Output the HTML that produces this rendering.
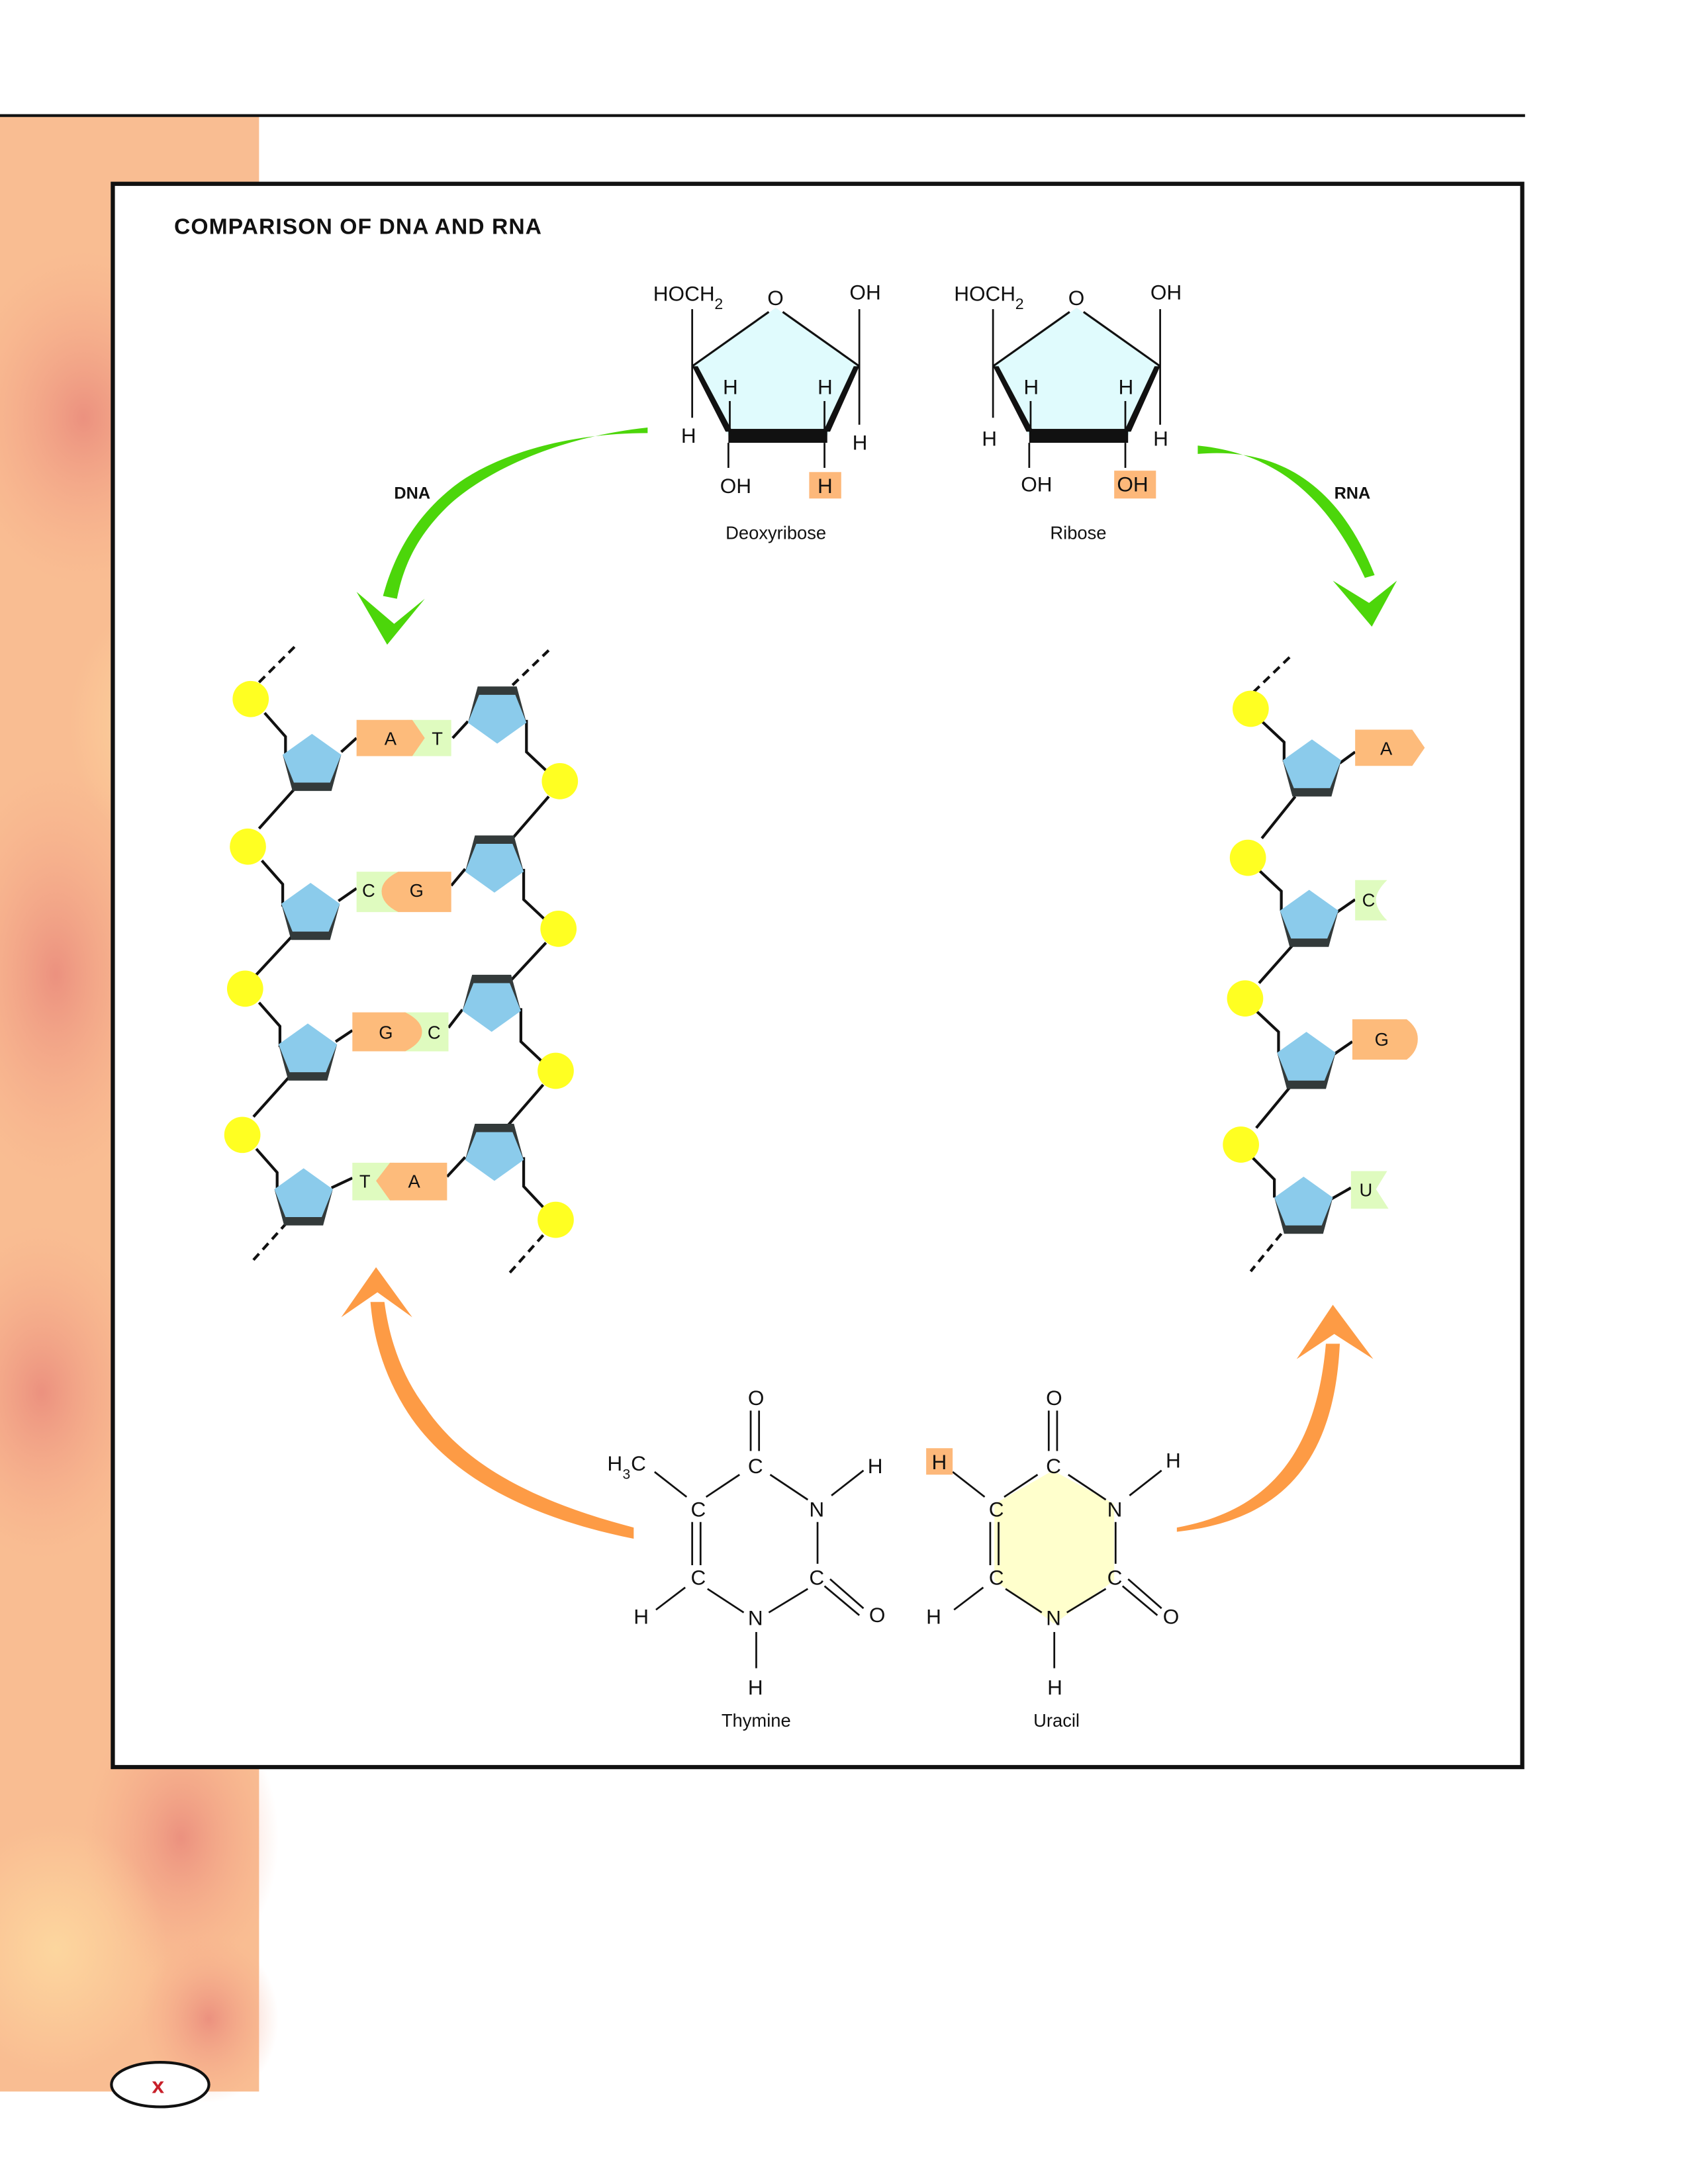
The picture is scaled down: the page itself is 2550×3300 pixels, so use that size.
<!DOCTYPE html>
<html><head><meta charset="utf-8"><style>
html,body{margin:0;padding:0;background:#fff}
svg{display:block}
text{font-family:"Liberation Sans",sans-serif;fill:#111}
</style></head><body>
<svg width="2550" height="3300" viewBox="0 0 1212 1568.4" preserveAspectRatio="none" xmlns="http://www.w3.org/2000/svg">
<defs>
<radialGradient id="b1" cx="0.5" cy="0.5" r="0.5"><stop offset="0" stop-color="#e8867a" stop-opacity="0.8"/><stop offset="1" stop-color="#f6a88a" stop-opacity="0"/></radialGradient>
<radialGradient id="b2" cx="0.5" cy="0.5" r="0.5"><stop offset="0" stop-color="#fdd9a0" stop-opacity="0.9"/><stop offset="1" stop-color="#fdd9a0" stop-opacity="0"/></radialGradient>
<g id="su"><polygon points="-21,-6 -14,20 14,20 21,-6" fill="#333a3a"/><polygon points="0,-21 21,-6 13,14 -13,14 -21,-6" fill="#8bcbeb"/></g>
<g id="sd"><polygon points="-21,6 -14,-20 14,-20 21,6" fill="#333a3a"/><polygon points="0,21 21,6 13,-14 -13,-14 -21,6" fill="#8bcbeb"/></g>
</defs>
<rect x="0" y="83" width="186" height="1419" fill="#f9bd92"/>
<ellipse cx="60" cy="300" rx="90" ry="120" fill="url(#b1)"/>
<ellipse cx="40" cy="700" rx="80" ry="150" fill="url(#b1)"/>
<ellipse cx="120" cy="520" rx="70" ry="90" fill="url(#b2)"/>
<ellipse cx="30" cy="1000" rx="80" ry="120" fill="url(#b1)"/>
<ellipse cx="130" cy="1320" rx="70" ry="100" fill="url(#b1)"/>
<ellipse cx="40" cy="1400" rx="80" ry="90" fill="url(#b2)"/>
<ellipse cx="150" cy="1450" rx="50" ry="60" fill="url(#b1)"/>
<line x1="0" y1="83" x2="1095" y2="83" stroke="#111" stroke-width="2"/>
<rect x="81" y="132" width="1012" height="1137" fill="#fff" stroke="#111" stroke-width="3"/>
<text x="125" y="168" font-size="16" font-weight="bold" letter-spacing="0.5">COMPARISON OF DNA AND RNA</text>

<g font-size="15">
<polygon points="497,263 557,221 617,263 594,313 523,313" fill="#e0fbfd"/>
<line x1="497" y1="263" x2="552" y2="224" stroke="#111" stroke-width="1.5"/>
<line x1="562" y1="224" x2="617" y2="263" stroke="#111" stroke-width="1.5"/>
<polygon points="497,263 501,263 526,310 521,310" fill="#111"/>
<polygon points="617,263 613,263 591,310 596,310" fill="#111"/>
<rect x="523" y="308" width="71" height="10" fill="#111"/>
<line x1="497" y1="222" x2="497" y2="300" stroke="#111" stroke-width="1.3"/>
<line x1="617" y1="222" x2="617" y2="305" stroke="#111" stroke-width="1.3"/>
<line x1="524" y1="288" x2="524" y2="310" stroke="#111" stroke-width="1.3"/>
<line x1="592" y1="288" x2="592" y2="310" stroke="#111" stroke-width="1.3"/>
<line x1="523" y1="318" x2="523" y2="336" stroke="#111" stroke-width="1.3"/>
<line x1="592" y1="318" x2="592" y2="336" stroke="#111" stroke-width="1.3"/>
<text x="469" y="216">HOCH</text><text x="513" y="222" font-size="11">2</text>
<text x="551" y="219">O</text><text x="610" y="215">OH</text>
<text x="519" y="283">H</text><text x="587" y="283">H</text>
<text x="489" y="318">H</text><text x="612" y="323">H</text>
<text x="517" y="354">OH</text>
<rect x="581" y="339" width="23" height="19" fill="#fdb87a"/><text x="587" y="354">H</text>
<text x="521" y="387" font-size="13">Deoxyribose</text>
</g>
<g font-size="15" transform="translate(216,0)">
<polygon points="497,263 557,221 617,263 594,313 523,313" fill="#e0fbfd"/>
<line x1="497" y1="263" x2="552" y2="224" stroke="#111" stroke-width="1.5"/>
<line x1="562" y1="224" x2="617" y2="263" stroke="#111" stroke-width="1.5"/>
<polygon points="497,263 501,263 526,310 521,310" fill="#111"/>
<polygon points="617,263 613,263 591,310 596,310" fill="#111"/>
<rect x="523" y="308" width="71" height="10" fill="#111"/>
<line x1="497" y1="222" x2="497" y2="300" stroke="#111" stroke-width="1.3"/>
<line x1="617" y1="222" x2="617" y2="305" stroke="#111" stroke-width="1.3"/>
<line x1="524" y1="288" x2="524" y2="310" stroke="#111" stroke-width="1.3"/>
<line x1="592" y1="288" x2="592" y2="310" stroke="#111" stroke-width="1.3"/>
<line x1="523" y1="318" x2="523" y2="336" stroke="#111" stroke-width="1.3"/>
<line x1="592" y1="318" x2="592" y2="336" stroke="#111" stroke-width="1.3"/>
<text x="469" y="216">HOCH</text><text x="513" y="222" font-size="11">2</text>
<text x="551" y="219">O</text><text x="610" y="215">OH</text>
<text x="519" y="283">H</text><text x="587" y="283">H</text>
<text x="489" y="320">H</text><text x="612" y="320">H</text>
<text x="517" y="353">OH</text>
<rect x="584" y="338" width="30" height="20" fill="#fdb87a"/><text x="586" y="353">OH</text>
<text x="538" y="387" font-size="13">Ribose</text>
</g>

<path d="M465,307 C390,315 340,345 320,365 C300,385 290,405 285,430 L275,428 C284,395 300,370 325,350 C350,330 400,311 465,311 Z" fill="#4cd60a"/>
<polygon points="256,425 278,463 305,430 283,448" fill="#4cd60a"/>
<path d="M860,320 C910,325 950,350 980,415 L987,413 C960,345 915,321 860,326 Z" fill="#4cd60a"/>
<polygon points="957,417 985,450 1003,417 983,433" fill="#4cd60a"/>
<text x="283" y="358" font-size="12" font-weight="bold">DNA</text>
<text x="958" y="358" font-size="12" font-weight="bold">RNA</text>

<path d="M455,1105 C380,1090 320,1060 290,1010 C275,985 268,960 266,935 L276,935 C280,965 290,990 305,1010 C335,1055 390,1080 455,1097 Z" fill="#fd9b45"/>
<polygon points="245,946 270,910 296,946 271,928" fill="#fd9b45"/>
<path d="M845,1097 C910,1085 945,1045 952,965 L962,965 C958,1050 920,1092 845,1100 Z" fill="#fd9b45"/>
<polygon points="931,976 957,937 986,976 958,958" fill="#fd9b45"/>

<g stroke="#111" stroke-width="2" fill="none">
<line x1="186" y1="490" x2="212" y2="464" stroke-dasharray="6,4"/>
<line x1="368" y1="492" x2="394" y2="467" stroke-dasharray="6,4"/>
<line x1="206" y1="878" x2="180" y2="907" stroke-dasharray="6,4"/>
<line x1="390" y1="887" x2="366" y2="914" stroke-dasharray="6,4"/>
<line x1="900" y1="497" x2="928" y2="470" stroke-dasharray="6,4"/>
<line x1="920" y1="886" x2="898" y2="913" stroke-dasharray="6,4"/>
<polyline points="190,512 205,529 205,544"/><polyline points="212,566 186,595"/><line x1="245" y1="540" x2="256" y2="530"/>
<polyline points="188,618 203,635 203,651"/><polyline points="210,672 184,700"/><line x1="243" y1="647" x2="256" y2="638"/>
<polyline points="186,720 201,737 201,752"/><polyline points="208,773 182,802"/><line x1="241" y1="748" x2="253" y2="740"/>
<polyline points="184,825 199,842 199,856"/><line x1="238" y1="853" x2="253" y2="846"/>
<line x1="325" y1="530" x2="336" y2="518"/><polyline points="378,517 378,540 395,556"/><polyline points="394,572 368,602"/>
<line x1="324" y1="636" x2="334" y2="624"/><polyline points="376,624 376,646 393,662"/><polyline points="392,677 366,705"/>
<line x1="322" y1="738" x2="332" y2="725"/><polyline points="374,724 374,748 391,764"/><polyline points="390,779 364,809"/>
<line x1="321" y1="845" x2="334" y2="831"/><polyline points="376,831 376,852 391,868"/>
<polyline points="906,518 922,533 922,547"/><polyline points="930,572 906,602"/><line x1="962" y1="548" x2="973" y2="540"/>
<polyline points="904,625 920,640 920,654"/><polyline points="928,679 904,706"/><line x1="960" y1="655" x2="973" y2="646"/>
<polyline points="902,726 918,741 918,756"/><polyline points="926,781 902,810"/><line x1="958" y1="757" x2="971" y2="748"/>
<polyline points="899,831 915,847 915,860"/><line x1="956" y1="861" x2="970" y2="853"/>
</g>
<g fill="#ffff22">
<circle cx="180" cy="502" r="13"/><circle cx="178" cy="608" r="13"/><circle cx="176" cy="710" r="13"/><circle cx="174" cy="815" r="13"/>
<circle cx="402" cy="561" r="13"/><circle cx="401" cy="667" r="13"/><circle cx="399" cy="769" r="13"/><circle cx="399" cy="876" r="13"/>
<circle cx="898" cy="509" r="13"/><circle cx="896" cy="616" r="13"/><circle cx="894" cy="717" r="13"/><circle cx="891" cy="822" r="13"/>
</g>
<use href="#su" x="224" y="548"/><use href="#su" x="223" y="655"/><use href="#su" x="221" y="756"/><use href="#su" x="218" y="860"/>
<use href="#sd" x="357" y="513"/><use href="#sd" x="355" y="620"/><use href="#sd" x="353" y="720"/><use href="#sd" x="355" y="827"/>
<use href="#su" x="942" y="552"/><use href="#su" x="940" y="660"/><use href="#su" x="938" y="762"/><use href="#su" x="936" y="866"/>

<g font-size="13">
<rect x="292" y="517" width="32" height="26" fill="#dffbbf"/>
<polygon points="256,517 296,517 305,530 296,543 256,543" fill="#fdbb7b"/>
<text x="276" y="535">A</text><text x="310" y="535">T</text>
<rect x="256" y="626" width="30" height="29" fill="#dffbbf"/>
<path d="M324,626 L286,626 Q274,632 274,640 Q274,649 286,655 L324,655 Z" fill="#fdbb7b"/>
<text x="260" y="644">C</text><text x="294" y="644">G</text>
<rect x="290" y="727" width="32" height="28" fill="#dffbbf"/>
<path d="M253,727 L291,727 Q303,733 303,741 Q303,749 291,755 L253,755 Z" fill="#fdbb7b"/>
<text x="272" y="746">G</text><text x="307" y="746">C</text>
<rect x="253" y="835" width="30" height="27" fill="#dffbbf"/>
<polygon points="321,835 280,835 270,848 280,862 321,862" fill="#fdbb7b"/>
<text x="258" y="853">T</text><text x="293" y="853">A</text>
<polygon points="973,524 1014,524 1023,537 1014,550 973,550" fill="#fdbb7b"/><text x="991" y="542">A</text>
<path d="M973,632 L996,632 Q988,640 988,646 Q988,653 996,661 L973,661 Z" fill="#dffbbf"/><text x="978" y="651">C</text>
<path d="M971,732 L1010,732 Q1018,738 1018,746 Q1018,755 1010,761 L971,761 Z" fill="#fdbb7b"/><text x="987" y="751">G</text>
<polygon points="970,841 996,841 988,854 997,868 970,868" fill="#dffbbf"/><text x="976" y="859">U</text>
</g>

<g font-size="15" stroke="#111" stroke-width="1.3">
<line x1="539" y1="1013" x2="539" y2="1042"/><line x1="545" y1="1013" x2="545" y2="1042"/>
<line x1="531" y1="1059" x2="507" y2="1075"/><line x1="553" y1="1059" x2="580" y2="1077"/>
<line x1="597" y1="1074" x2="620" y2="1056"/><line x1="587" y1="1093" x2="587" y2="1123"/>
<line x1="580" y1="1141" x2="552" y2="1158"/><line x1="592" y1="1139" x2="617" y2="1160"/><line x1="596" y1="1134" x2="620" y2="1155"/>
<line x1="534" y1="1158" x2="508" y2="1141"/><line x1="497" y1="1093" x2="497" y2="1124"/><line x1="503" y1="1093" x2="503" y2="1124"/>
<line x1="493" y1="1075" x2="470" y2="1057"/><line x1="492" y1="1140" x2="471" y2="1156"/><line x1="543" y1="1172" x2="543" y2="1198"/>
</g>
<g font-size="15">
<text x="537" y="1009">O</text><text x="537" y="1058">C</text><text x="581" y="1089">N</text><text x="581" y="1138">C</text>
<text x="537" y="1167">N</text><text x="496" y="1138">C</text><text x="496" y="1089">C</text>
<text x="436" y="1056">H</text><text x="447" y="1062" font-size="10">3</text><text x="453" y="1056">C</text>
<text x="623" y="1058">H</text><text x="624" y="1165">O</text><text x="455" y="1166">H</text><text x="537" y="1217">H</text>
<text x="518" y="1240" font-size="13">Thymine</text>
</g>
<polygon points="756,1056 800,1080 800,1135 757,1166 714,1135 714,1080" fill="#ffffcc"/>
<g font-size="15" stroke="#111" stroke-width="1.3" transform="translate(214,0)">
<line x1="539" y1="1013" x2="539" y2="1042"/><line x1="545" y1="1013" x2="545" y2="1042"/>
<line x1="531" y1="1059" x2="507" y2="1075"/><line x1="553" y1="1059" x2="580" y2="1077"/>
<line x1="597" y1="1074" x2="620" y2="1056"/><line x1="587" y1="1093" x2="587" y2="1123"/>
<line x1="580" y1="1141" x2="552" y2="1158"/><line x1="592" y1="1139" x2="617" y2="1160"/><line x1="596" y1="1134" x2="620" y2="1155"/>
<line x1="534" y1="1158" x2="508" y2="1141"/><line x1="497" y1="1093" x2="497" y2="1124"/><line x1="503" y1="1093" x2="503" y2="1124"/>
<line x1="493" y1="1075" x2="470" y2="1057"/><line x1="492" y1="1140" x2="471" y2="1156"/><line x1="543" y1="1172" x2="543" y2="1198"/>
</g>
<g font-size="15" transform="translate(214,0)">
<text x="537" y="1009">O</text><text x="537" y="1058">C</text><text x="581" y="1089">N</text><text x="581" y="1138">C</text>
<text x="537" y="1167">N</text><text x="496" y="1138">C</text><text x="496" y="1089">C</text>
<rect x="451" y="1040" width="19" height="19" fill="#fdb87a"/><text x="455" y="1055">H</text>
<text x="623" y="1054">H</text><text x="621" y="1166">O</text><text x="451" y="1166">H</text><text x="538" y="1217">H</text>
<text x="528" y="1240" font-size="13">Uracil</text>
</g>

<ellipse cx="115" cy="1497" rx="35" ry="16" fill="#fff" stroke="#111" stroke-width="2"/>
<text x="109" y="1503" font-size="16" font-weight="bold" style="fill:#c8202a">x</text>
</svg>
</body></html>
